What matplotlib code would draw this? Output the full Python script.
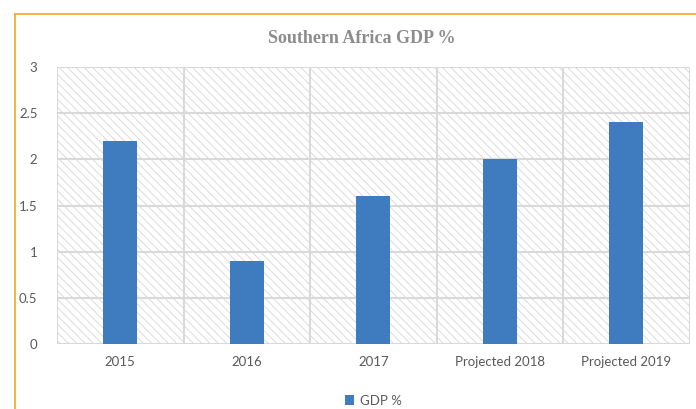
import matplotlib
matplotlib.use('Agg')
import matplotlib.pyplot as plt
from matplotlib.patches import Rectangle
from matplotlib.lines import Line2D

categories = ['2015', '2016', '2017', 'Projected 2018', 'Projected 2019']
gdp = [2.2, 0.9, 1.6, 2.0, 2.4]
yticks = [0, 0.5, 1, 1.5, 2, 2.5, 3]
ytick_labels = ['0', '0.5', '1', '1.5', '2', '2.5', '3']

plt.rcParams['font.family'] = ['Lato', 'DejaVu Sans']
plt.rcParams['hatch.linewidth'] = 0.6

fig = plt.figure(figsize=(6.96, 4.09), dpi=100)
ax = fig.add_axes([0.0819, 0.159, 0.909, 0.677])

grid_col = '#d9d9d9'
text_col = '#595959'

# hatched background
bg = Rectangle((0, 0), 1, 1, transform=ax.transAxes, facecolor='white',
               edgecolor='#d6d6d6', hatch='\\\\\\\\', linewidth=0, zorder=0)
ax.add_patch(bg)

x = list(range(len(categories)))
ax.bar(x, gdp, width=0.27, color='#3f7bbf', zorder=3, label='GDP %')

ax.set_xlim(-0.5, len(categories) - 0.5)
ax.set_ylim(0, 3)
ax.set_yticks(yticks)
ax.set_yticklabels(ytick_labels)
ax.set_xticks(x)
ax.set_xticklabels(categories)

for y in yticks:
    ax.axhline(y, color=grid_col, lw=1.5, zorder=1)
for b in range(len(categories) + 1):
    ax.axvline(b - 0.5, color=grid_col, lw=1.5, zorder=1)

for s in ax.spines.values():
    s.set_visible(False)
ax.tick_params(length=0, colors=text_col, labelsize=9.5)
ax.tick_params(axis='x', pad=9)
ax.tick_params(axis='y', pad=14)

fig.text(0.52, 0.905, 'Southern Africa GDP %', ha='center', va='center',
         fontsize=13, fontweight='bold', color='#8c8c8c',
         family=['Liberation Serif', 'DejaVu Serif'])

leg = ax.legend(loc='center', bbox_to_anchor=(0.5, -0.205), frameon=False,
                fontsize=9.5, handlelength=0.7, handleheight=0.7,
                handletextpad=0.4)
for t in leg.get_texts():
    t.set_color(text_col)

# orange frame edge
orange = '#f5a623'
fig.add_artist(Line2D([15 / 696, 1], [1 - 14 / 409, 1 - 14 / 409],
                      transform=fig.transFigure, color=orange, lw=1.2))
fig.add_artist(Line2D([15 / 696, 15 / 696], [0, 1 - 14 / 409],
                      transform=fig.transFigure, color=orange, lw=1.2))

fig.savefig('out.png', dpi=100)
